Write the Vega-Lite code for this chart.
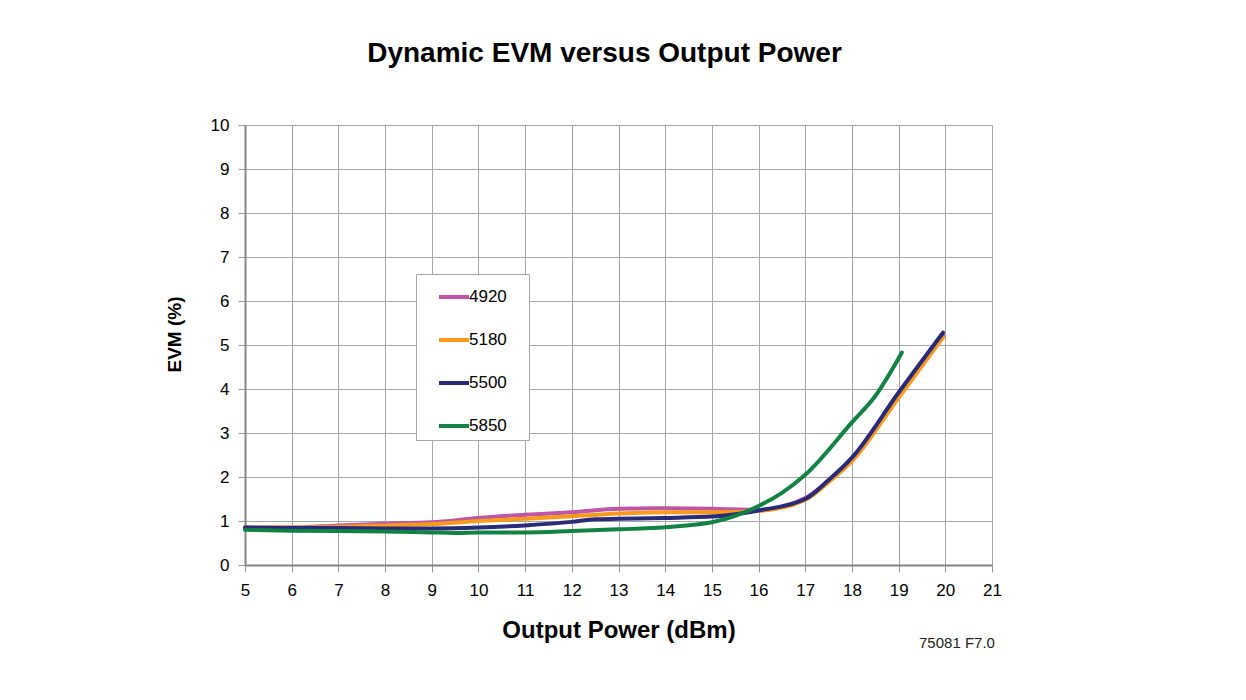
{
  "$schema": "https://vega.github.io/schema/vega-lite/v6.json",
  "width": 747,
  "height": 440,
  "autosize": {"type": "none"},
  "padding": {"left": 245, "top": 125, "right": 254, "bottom": 135},
  "background": "white",
  "config": {
    "font": "Liberation Sans",
    "view": {"stroke": null},
    "axis": {
      "labelFont": "Liberation Sans",
      "labelFontSize": 17,
      "labelColor": "black",
      "labelFlush": false,
      "titleFont": "Liberation Sans",
      "titleFontWeight": "bold",
      "titleColor": "black",
      "gridColor": "#a6a6a6",
      "gridOpacity": 1,
      "gridWidth": 1,
      "domainColor": "#868686",
      "domainWidth": 2,
      "tickColor": "#9a9a9a",
      "tickSize": 7,
      "tickWidth": 1
    }
  },
  "title": {
    "text": "Dynamic EVM versus Output Power",
    "font": "Liberation Sans",
    "fontSize": 28,
    "fontWeight": "bold",
    "color": "black",
    "anchor": "middle",
    "frame": "group",
    "dx": -14,
    "offset": 48
  },
  "layer": [
    {
      "data": {
        "values": [
          {"p": 5, "evm": 0.85, "f": "4920"}, {"p": 6, "evm": 0.85, "f": "4920"}, {"p": 7, "evm": 0.9, "f": "4920"}, {"p": 8, "evm": 0.94, "f": "4920"}, {"p": 9, "evm": 0.97, "f": "4920"}, {"p": 10, "evm": 1.07, "f": "4920"}, {"p": 11, "evm": 1.14, "f": "4920"}, {"p": 12, "evm": 1.2, "f": "4920"}, {"p": 13, "evm": 1.28, "f": "4920"}, {"p": 14, "evm": 1.29, "f": "4920"}, {"p": 15, "evm": 1.28, "f": "4920"}, {"p": 16, "evm": 1.25, "f": "4920"}, {"p": 17, "evm": 1.52, "f": "4920"}, {"p": 17.5, "evm": 1.92, "f": "4920"}, {"p": 18, "evm": 2.42, "f": "4920"}, {"p": 19, "evm": 3.88, "f": "4920"}, {"p": 19.95, "evm": 5.22, "f": "4920"},
          {"p": 5, "evm": 0.85, "f": "5180"}, {"p": 6, "evm": 0.85, "f": "5180"}, {"p": 7, "evm": 0.87, "f": "5180"}, {"p": 8, "evm": 0.9, "f": "5180"}, {"p": 9, "evm": 0.93, "f": "5180"}, {"p": 10, "evm": 1.0, "f": "5180"}, {"p": 11, "evm": 1.05, "f": "5180"}, {"p": 12, "evm": 1.11, "f": "5180"}, {"p": 13, "evm": 1.17, "f": "5180"}, {"p": 14, "evm": 1.2, "f": "5180"}, {"p": 15, "evm": 1.2, "f": "5180"}, {"p": 16, "evm": 1.23, "f": "5180"}, {"p": 17, "evm": 1.48, "f": "5180"}, {"p": 17.5, "evm": 1.88, "f": "5180"}, {"p": 18, "evm": 2.36, "f": "5180"}, {"p": 19, "evm": 3.8, "f": "5180"}, {"p": 19.95, "evm": 5.17, "f": "5180"},
          {"p": 5, "evm": 0.85, "f": "5500"}, {"p": 6, "evm": 0.84, "f": "5500"}, {"p": 7, "evm": 0.84, "f": "5500"}, {"p": 8, "evm": 0.83, "f": "5500"}, {"p": 9, "evm": 0.83, "f": "5500"}, {"p": 10, "evm": 0.85, "f": "5500"}, {"p": 11, "evm": 0.9, "f": "5500"}, {"p": 12, "evm": 0.98, "f": "5500"}, {"p": 12.5, "evm": 1.04, "f": "5500"}, {"p": 13, "evm": 1.05, "f": "5500"}, {"p": 14, "evm": 1.07, "f": "5500"}, {"p": 15, "evm": 1.1, "f": "5500"}, {"p": 16, "evm": 1.24, "f": "5500"}, {"p": 17, "evm": 1.5, "f": "5500"}, {"p": 17.5, "evm": 1.93, "f": "5500"}, {"p": 18, "evm": 2.44, "f": "5500"}, {"p": 19, "evm": 3.92, "f": "5500"}, {"p": 19.95, "evm": 5.28, "f": "5500"},
          {"p": 5, "evm": 0.8, "f": "5850"}, {"p": 6, "evm": 0.78, "f": "5850"}, {"p": 7, "evm": 0.77, "f": "5850"}, {"p": 8, "evm": 0.76, "f": "5850"}, {"p": 9, "evm": 0.74, "f": "5850"}, {"p": 9.5, "evm": 0.73, "f": "5850"}, {"p": 10, "evm": 0.74, "f": "5850"}, {"p": 11, "evm": 0.74, "f": "5850"}, {"p": 12, "evm": 0.77, "f": "5850"}, {"p": 13, "evm": 0.81, "f": "5850"}, {"p": 14, "evm": 0.86, "f": "5850"}, {"p": 15, "evm": 0.97, "f": "5850"}, {"p": 16, "evm": 1.34, "f": "5850"}, {"p": 16.5, "evm": 1.64, "f": "5850"}, {"p": 17, "evm": 2.05, "f": "5850"}, {"p": 18, "evm": 3.24, "f": "5850"}, {"p": 18.5, "evm": 3.84, "f": "5850"}, {"p": 19.07, "evm": 4.83, "f": "5850"}
        ]
      },
      "mark": {"type": "line", "interpolate": "monotone", "strokeWidth": 4, "strokeCap": "round"},
      "encoding": {
        "x": {
          "field": "p", "type": "quantitative",
          "scale": {"domain": [5, 21], "nice": false, "zero": false},
          "axis": {"values": [5,6,7,8,9,10,11,12,13,14,15,16,17,18,19,20,21], "title": "Output Power (dBm)", "titleFontSize": 24, "labelPadding": 10, "titlePadding": 20}
        },
        "y": {
          "field": "evm", "type": "quantitative",
          "scale": {"domain": [0, 10], "nice": false},
          "axis": {"values": [0,1,2,3,4,5,6,7,8,9,10], "title": "EVM (%)", "titleFontSize": 19, "labelPadding": 9, "titlePadding": 26, "titleY": 209}
        },
        "color": {
          "field": "f", "type": "nominal",
          "scale": {"domain": ["4920", "5180", "5500", "5850"], "range": ["#BE55A5", "#F89A1C", "#2A2B78", "#128244"]},
          "legend": {
            "title": ".",
            "titleOrient": "right",
            "titlePadding": 14,
            "titleFontSize": 4,
            "titleColor": "white",
            "orient": "none",
            "legendX": 171,
            "legendY": 149,
            "direction": "vertical",
            "fillColor": "white",
            "strokeColor": "#a6a6a6",
            "padding": 6,
            "symbolType": "stroke",
            "symbolSize": 900,
            "symbolStrokeWidth": 4,
            "symbolOffset": 15,
            "labelOffset": -2,
            "rowPadding": 18,
            "labelFont": "Liberation Sans",
            "labelFontSize": 17,
            "labelColor": "black"
          }
        }
      }
    },
    {
      "data": {"values": [{"p": 20.25, "evm": -1.78, "note": "75081 F7.0"}]},
      "mark": {"type": "text", "fontSize": 15, "font": "Liberation Sans", "color": "#222222", "clip": false},
      "encoding": {
        "x": {"field": "p", "type": "quantitative"},
        "y": {"field": "evm", "type": "quantitative"},
        "text": {"field": "note"}
      }
    }
  ]
}
